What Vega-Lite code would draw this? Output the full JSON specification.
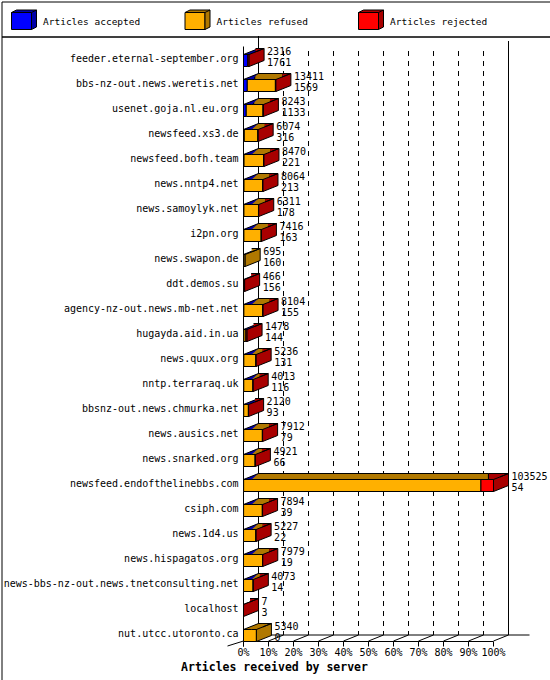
{
  "$schema": "https://vega.github.io/schema/vega-lite/v6.json",
  "padding": 0.5,
  "spacing": 0,
  "bounds": "flush",
  "background": "white",
  "config": {
    "view": {"stroke": "black", "strokeWidth": 1},
    "font": "DejaVu Sans Mono",
    "axis": {"domainColor": "black", "tickColor": "black", "labelColor": "black", "titleColor": "black", "labelFont": "DejaVu Sans Mono", "titleFont": "DejaVu Sans Mono", "labelFontSize": 10, "grid": false, "translate": 0},
    "text": {"font": "DejaVu Sans Mono", "fontSize": 10, "color": "black"}
  },
  "resolve": {"scale": {"fill": "independent"}},
  "datasets": {
    "servers": [
      {"server": "feeder.eternal-september.org", "total": 2316, "accepted": 1761, "refused": 0, "rejected": 555},
      {"server": "bbs-nz-out.news.weretis.net", "total": 13411, "accepted": 1569, "refused": 11642, "rejected": 200},
      {"server": "usenet.goja.nl.eu.org", "total": 8243, "accepted": 1133, "refused": 6960, "rejected": 150},
      {"server": "newsfeed.xs3.de", "total": 6074, "accepted": 316, "refused": 5658, "rejected": 100},
      {"server": "newsfeed.bofh.team", "total": 8470, "accepted": 221, "refused": 8149, "rejected": 100},
      {"server": "news.nntp4.net", "total": 8064, "accepted": 213, "refused": 7751, "rejected": 100},
      {"server": "news.samoylyk.net", "total": 6311, "accepted": 178, "refused": 6033, "rejected": 100},
      {"server": "i2pn.org", "total": 7416, "accepted": 163, "refused": 7153, "rejected": 100},
      {"server": "news.swapon.de", "total": 695, "accepted": 160, "refused": 535, "rejected": 0},
      {"server": "ddt.demos.su", "total": 466, "accepted": 156, "refused": 0, "rejected": 310},
      {"server": "agency-nz-out.news.mb-net.net", "total": 8104, "accepted": 155, "refused": 7849, "rejected": 100},
      {"server": "hugayda.aid.in.ua", "total": 1478, "accepted": 144, "refused": 834, "rejected": 500},
      {"server": "news.quux.org", "total": 5236, "accepted": 131, "refused": 5005, "rejected": 100},
      {"server": "nntp.terraraq.uk", "total": 4013, "accepted": 116, "refused": 3797, "rejected": 100},
      {"server": "bbsnz-out.news.chmurka.net", "total": 2120, "accepted": 93, "refused": 1927, "rejected": 100},
      {"server": "news.ausics.net", "total": 7912, "accepted": 79, "refused": 7733, "rejected": 100},
      {"server": "news.snarked.org", "total": 4921, "accepted": 66, "refused": 4755, "rejected": 100},
      {"server": "newsfeed.endofthelinebbs.com", "total": 103525, "accepted": 54, "refused": 98271, "rejected": 5200},
      {"server": "csiph.com", "total": 7894, "accepted": 39, "refused": 7755, "rejected": 100},
      {"server": "news.1d4.us", "total": 5227, "accepted": 22, "refused": 5105, "rejected": 100},
      {"server": "news.hispagatos.org", "total": 7979, "accepted": 19, "refused": 7860, "rejected": 100},
      {"server": "news-bbs-nz-out.news.tnetconsulting.net", "total": 4073, "accepted": 14, "refused": 3959, "rejected": 100},
      {"server": "localhost", "total": 7, "accepted": 3, "refused": 0, "rejected": 4},
      {"server": "nut.utcc.utoronto.ca", "total": 5340, "accepted": 0, "refused": 5340, "rejected": 0}
    ],
    "series": [
      {"series": "accepted", "label": "Articles accepted"},
      {"series": "refused", "label": "Articles refused"},
      {"series": "rejected", "label": "Articles rejected"}
    ],
    "ticks": [
      {"v": 0}, {"v": 10352.5}, {"v": 20705}, {"v": 31057.5}, {"v": 41410}, {"v": 51762.5},
      {"v": 62115}, {"v": 72467.5}, {"v": 82820}, {"v": 93172.5}, {"v": 103525}
    ]
  },
  "vconcat": [
    {
      "width": 549,
      "height": 35,
      "data": {"name": "series"},
      "encoding": {
        "x": {"field": "series", "type": "nominal", "scale": {"type": "point", "domain": ["accepted", "refused", "rejected"], "range": [19.5, 366.5], "padding": 0}, "axis": null}
      },
      "layer": [
        {
          "mark": {"type": "point", "shape": "M-9.5,-6.5L10.5,-6.5L10.5,10.5L-9.5,10.5Z", "size": 4, "filled": true, "opacity": 1, "stroke": "black", "strokeWidth": 1},
          "encoding": {"fill": {"field": "series", "type": "nominal", "scale": {"domain": ["accepted", "refused", "rejected"], "range": ["#0000ff", "#ffb000", "#ff0000"]}, "legend": null}}
        },
        {
          "mark": {"type": "point", "shape": "M-9.5,-6.5L-4.5,-9L15.5,-9L15.5,8L10.5,10.5L10.5,-6.5Z M10.5,-6.5L15.5,-9", "size": 4, "filled": true, "opacity": 1, "stroke": "black", "strokeWidth": 1},
          "encoding": {"fill": {"field": "series", "type": "nominal", "scale": {"domain": ["accepted", "refused", "rejected"], "range": ["#0000a8", "#b07800", "#a80000"]}, "legend": null}}
        },
        {
          "mark": {"type": "text", "align": "left", "baseline": "middle", "dx": 22, "dy": 2.5, "fontSize": 9.5},
          "encoding": {"text": {"field": "label", "type": "nominal"}}
        }
      ],
      "resolve": {"scale": {"fill": "independent"}}
    },
    {
      "width": 549,
      "height": 644,
      "data": {"name": "servers"},
      "layer": [
        {
          "data": {"name": "ticks"},
          "transform": [{"filter": "datum.v == 0"}],
          "mark": {"type": "rule", "color": "black", "strokeWidth": 1, "xOffset": 15, "yOffset": -23, "y2Offset": 1},
          "encoding": {
            "x": {"field": "v", "type": "quantitative"},
            "y": {"datum": "feeder.eternal-september.org", "type": "nominal"},
            "y2": {"datum": "nut.utcc.utoronto.ca"}
          }
        },
        {
          "data": {"name": "ticks"},
          "transform": [{"filter": "datum.v == 103525"}],
          "mark": {"type": "rule", "color": "black", "strokeWidth": 1, "xOffset": 15, "yOffset": -18, "y2Offset": 1},
          "encoding": {
            "x": {"field": "v", "type": "quantitative"},
            "y": {"datum": "feeder.eternal-september.org", "type": "nominal"},
            "y2": {"datum": "nut.utcc.utoronto.ca"}
          }
        },
        {
          "data": {"name": "ticks"},
          "transform": [{"filter": "datum.v > 0 && datum.v < 103525"}],
          "mark": {"type": "rule", "color": "black", "strokeWidth": 1, "strokeDash": [5, 5], "xOffset": 15, "yOffset": -8, "y2Offset": 1},
          "encoding": {
            "x": {"field": "v", "type": "quantitative"},
            "y": {"datum": "feeder.eternal-september.org", "type": "nominal"},
            "y2": {"datum": "nut.utcc.utoronto.ca"}
          }
        },
        {
          "data": {"name": "ticks"},
          "transform": [{"filter": "datum.v == 0"}],
          "mark": {"type": "rule", "color": "black", "strokeWidth": 1, "xOffset": 15, "x2Offset": 36, "yOffset": 1},
          "encoding": {
            "x": {"field": "v", "type": "quantitative"},
            "x2": {"datum": 103525},
            "y": {"datum": "nut.utcc.utoronto.ca", "type": "nominal"}
          }
        },
        {
          "data": {"name": "ticks"},
          "mark": {"type": "point", "shape": "M0,0L15,-6", "size": 4, "filled": false, "opacity": 1, "color": "black", "strokeWidth": 1, "yOffset": 7},
          "encoding": {
            "x": {"field": "v", "type": "quantitative"},
            "y": {"datum": "nut.utcc.utoronto.ca", "type": "nominal"}
          }
        },
        {
          "data": {"name": "ticks"},
          "transform": [{"filter": "datum.v == 0"}],
          "mark": {"type": "point", "shape": "M0,0L-16,5", "size": 4, "filled": false, "opacity": 1, "color": "black", "strokeWidth": 1, "yOffset": 7},
          "encoding": {
            "x": {"field": "v", "type": "quantitative"},
            "y": {"datum": "nut.utcc.utoronto.ca", "type": "nominal"}
          }
        },
        {
          "transform": [
            {"fold": ["accepted", "refused", "rejected"], "as": ["type", "value"]},
            {"filter": "datum.value > 0"},
            {"stack": "value", "groupby": ["server"], "sort": [{"field": "type", "order": "ascending"}], "as": ["v0", "v1"]}
          ],
          "mark": {"type": "bar", "height": 12, "yOffset": 1.5, "stroke": "black", "strokeWidth": 1},
          "encoding": {
            "y": {
              "field": "server", "type": "nominal",
              "scale": {
                "domain": ["feeder.eternal-september.org", "bbs-nz-out.news.weretis.net", "usenet.goja.nl.eu.org", "newsfeed.xs3.de", "newsfeed.bofh.team", "news.nntp4.net", "news.samoylyk.net", "i2pn.org", "news.swapon.de", "ddt.demos.su", "agency-nz-out.news.mb-net.net", "hugayda.aid.in.ua", "news.quux.org", "nntp.terraraq.uk", "bbsnz-out.news.chmurka.net", "news.ausics.net", "news.snarked.org", "newsfeed.endofthelinebbs.com", "csiph.com", "news.1d4.us", "news.hispagatos.org", "news-bbs-nz-out.news.tnetconsulting.net", "localhost", "nut.utcc.utoronto.ca"],
                "range": [10, 610], "paddingInner": 0, "paddingOuter": 0
              },
              "axis": {"orient": "left", "offset": -242, "ticks": false, "labelPadding": 5, "labelLimit": 400, "labelFontSize": 10, "title": null, "domain": true}
            },
            "x": {
              "field": "v0", "type": "quantitative",
              "scale": {"domain": [0, 103525], "range": [242, 492], "nice": false, "zero": false},
              "axis": {
                "orient": "bottom", "offset": -39,
                "values": [0, 10352.5, 20705, 31057.5, 41410, 51762.5, 62115, 72467.5, 82820, 93172.5, 103525],
                "tickSize": 5, "labelPadding": 1, "labelFlush": false, "labelOverlap": false,
                "labelExpr": "format(datum.value / 103525, '.0%')",
                "title": "Articles received by server", "titleFontSize": 11.5, "titleFontWeight": "bold",
                "titleX": 273, "titleY": 26.5, "titleBaseline": "middle", "titleAlign": "center"
              }
            },
            "x2": {"field": "v1"},
            "fill": {"field": "type", "type": "nominal", "scale": {"domain": ["accepted", "refused", "rejected"], "range": ["#0000ff", "#ffb000", "#ff0000"]}, "legend": null}
          }
        },
        {
          "transform": [
            {"fold": ["accepted", "refused", "rejected"], "as": ["type", "value"]},
            {"filter": "datum.value > 0"},
            {"stack": "value", "groupby": ["server"], "sort": [{"field": "type", "order": "ascending"}], "as": ["v0", "v1"]}
          ],
          "mark": {"type": "bar", "height": 6, "yOffset": -7.5, "xOffset": 7.5, "x2Offset": 7.5, "stroke": "black", "strokeWidth": 1},
          "encoding": {
            "y": {"field": "server", "type": "nominal"},
            "x": {"field": "v0", "type": "quantitative"},
            "x2": {"field": "v1"},
            "fill": {"field": "type", "type": "nominal", "scale": {"domain": ["accepted", "refused", "rejected"], "range": ["#0000a8", "#b07800", "#a80000"]}, "legend": null}
          }
        },
        {
          "transform": [
            {"fold": ["accepted", "refused", "rejected"], "as": ["type", "value"]},
            {"filter": "datum.value > 0"},
            {"stack": "value", "groupby": ["server"], "sort": [{"field": "type", "order": "ascending"}], "as": ["v0", "v1"]},
            {"filter": "datum.v0 == 0"}
          ],
          "mark": {"type": "point", "shape": "M6.5,-11L14.5,-11L14.5,-10.3L6.5,-7.1Z", "size": 4, "filled": true, "opacity": 1, "fill": "white", "strokeWidth": 0},
          "encoding": {
            "y": {"field": "server", "type": "nominal"},
            "x": {"field": "v0", "type": "quantitative"}
          }
        },
        {
          "transform": [
            {"fold": ["accepted", "refused", "rejected"], "as": ["type", "value"]},
            {"filter": "datum.value > 0"},
            {"stack": "value", "groupby": ["server"], "sort": [{"field": "type", "order": "ascending"}], "as": ["v0", "v1"]},
            {"filter": "datum.v0 == 0"}
          ],
          "mark": {"type": "point", "shape": "M8,-4.5L0,-4.5L15,-10.5", "size": 4, "filled": true, "opacity": 1, "stroke": "black", "strokeWidth": 1},
          "encoding": {
            "y": {"field": "server", "type": "nominal"},
            "x": {"field": "v0", "type": "quantitative"},
            "fill": {"field": "type", "type": "nominal", "scale": {"domain": ["accepted", "refused", "rejected"], "range": ["#0000a8", "#b07800", "#a80000"]}, "legend": null}
          }
        },
        {
          "transform": [
            {"fold": ["accepted", "refused", "rejected"], "as": ["type", "value"]},
            {"filter": "datum.value > 0"},
            {"stack": "value", "groupby": ["server"], "sort": [{"field": "type", "order": "ascending"}], "as": ["v0", "v1"]},
            {"joinaggregate": [{"op": "max", "field": "v1", "as": "end"}], "groupby": ["server"]},
            {"filter": "datum.v1 >= datum.end"}
          ],
          "mark": {"type": "point", "shape": "M0,-4.5L15,-10.5L15,1.5L0,7.5Z M6.5,-7.1L15,-10.5L6.5,-10.5", "size": 4, "filled": true, "opacity": 1, "stroke": "black", "strokeWidth": 1},
          "encoding": {
            "y": {"field": "server", "type": "nominal"},
            "x": {"field": "v1", "type": "quantitative"},
            "fill": {"field": "type", "type": "nominal", "scale": {"domain": ["accepted", "refused", "rejected"], "range": ["#0000a8", "#b07800", "#a80000"]}, "legend": null}
          }
        },
        {
          "mark": {"type": "text", "align": "left", "baseline": "middle", "dx": 18, "dy": -7.5},
          "encoding": {
            "y": {"field": "server", "type": "nominal"},
            "x": {"field": "total", "type": "quantitative"},
            "text": {"field": "total", "type": "quantitative", "format": "d"}
          }
        },
        {
          "mark": {"type": "text", "align": "left", "baseline": "middle", "dx": 18, "dy": 4},
          "encoding": {
            "y": {"field": "server", "type": "nominal"},
            "x": {"field": "total", "type": "quantitative"},
            "text": {"field": "accepted", "type": "quantitative", "format": "d"}
          }
        }
      ],
      "resolve": {"scale": {"fill": "independent"}}
    }
  ]
}
